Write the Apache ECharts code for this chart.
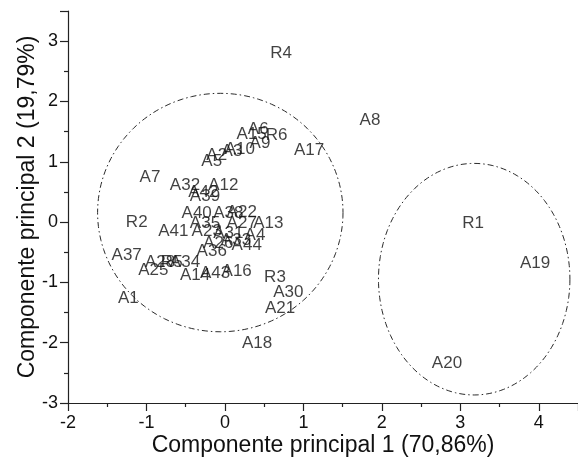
<!DOCTYPE html>
<html>
<head>
<meta charset="utf-8">
<script src="https://cdn.jsdelivr.net/npm/echarts@6/dist/echarts.min.js"></script>
<style>html,body{margin:0;padding:0;background:#fff;}#c{width:578px;height:460px;}</style>
</head>
<body>
<div id="c"></div>
<script>
// Sample labels and PCA scores
var labels = ['R4','A8','A17','R6','A6','A15','A9','A3','A10','A2','A5','A7','A32','A12','A42','A39','A40','A38','A22','R2','A13','A41','A35','A27','A23','A31','A33','A4','A44','A26','A36','A37','A28','R5','A34','A25','A14','A43','A16','R3','A30','A21','A1','A18','R1','A19','A20'];
var pc1 = [0.715,1.849,1.072,0.66,0.425,0.341,0.447,0.09,0.19,-0.105,-0.168,-0.955,-0.509,-0.021,-0.276,-0.254,-0.360,0.043,0.214,-1.124,0.553,-0.658,-0.254,0.214,-0.232,0.043,0.141,0.383,0.278,-0.084,-0.168,-1.252,-0.827,-0.678,-0.509,-0.913,-0.381,-0.126,0.150,0.638,0.808,0.702,-1.231,0.409,3.162,3.952,2.830];
var pc2 = [2.80,1.69,1.19,1.44,1.53,1.46,1.31,1.17,1.20,1.11,1.00,0.75,0.61,0.61,0.50,0.42,0.14,0.14,0.17,0.00,-0.02,-0.16,-0.02,-0.02,-0.16,-0.19,-0.30,-0.22,-0.38,-0.35,-0.49,-0.55,-0.66,-0.66,-0.66,-0.80,-0.88,-0.85,-0.82,-0.91,-1.16,-1.43,-1.27,-2.01,-0.02,-0.68,-2.34];
// Group ellipses: centre x, centre y, radius x, radius y (data units)
var ellCx = [-0.059, 3.177];
var ellCy = [0.158, -0.947];
var ellRx = [1.564, 1.22];
var ellRy = [1.977, 1.92];
var xTicks = [-2,-1,0,1,2,3,4];
var yTicks = [-3,-2,-1,0,1,2,3];

var pts = labels.map(function(n,i){ return [pc1[i], pc2[i], n]; });
var ells = ellCx.map(function(c,i){ return [c, ellCy[i], ellRx[i], ellRy[i]]; });

var chart = echarts.init(document.getElementById('c'), null, {renderer:'canvas'});
var txt = '#111';
var font = 'Liberation Sans, Arial, sans-serif';
chart.setOption({
  animation:false,
  backgroundColor:'#fff',
  grid:{left:68, right:0, top:11, bottom:57, containLabel:false, outerBoundsMode:'none'},
  xAxis:{
    type:'value', min:-2, max:4.5, interval:1,
    name:'Componente principal 1 (70,86%)', nameLocation:'middle', nameGap:31, nameMoveOverlap:false,
    nameTextStyle:{fontFamily:font, fontSize:23, color:txt},
    axisLine:{show:true, onZero:false, lineStyle:{color:'#222', width:1.2}},
    axisTick:{show:true, inside:false, length:8, lineStyle:{color:'#222', width:1.2}},
    minorTick:{show:true, splitNumber:2, length:4, lineStyle:{color:'#222', width:1.2}},
    axisLabel:{fontFamily:font, fontSize:18, color:txt, margin:11, showMaxLabel:false,
      formatter:function(v){ return xTicks.indexOf(v)>=0 ? String(v) : ''; }},
    splitLine:{show:false}
  },
  yAxis:{
    type:'value', min:-3, max:3.5, interval:1,
    name:'Componente principal 2 (19,79%)', nameLocation:'middle', nameGap:29, nameMoveOverlap:false,
    nameTextStyle:{fontFamily:font, fontSize:23, color:txt},
    axisLine:{show:true, onZero:false, lineStyle:{color:'#222', width:1.2}},
    axisTick:{show:true, inside:false, length:8, lineStyle:{color:'#222', width:1.2}},
    minorTick:{show:true, splitNumber:2, length:4, lineStyle:{color:'#222', width:1.2}},
    axisLabel:{fontFamily:font, fontSize:18, color:txt, margin:10, showMaxLabel:false,
      formatter:function(v){ return yTicks.indexOf(v)>=0 ? String(v) : ''; }},
    splitLine:{show:false}
  },
  series:[
    {
      type:'custom',
      data:ells,
      silent:true,
      clip:false,
      renderItem:function(params, api){
        var c = api.coord([api.value(0), api.value(1)]);
        var s = api.size([api.value(2), api.value(3)]);
        var p = [];
        for (var k=0;k<=160;k++){
          var t = k/160*Math.PI*2;
          p.push([c[0]+s[0]*Math.cos(t), c[1]+s[1]*Math.sin(t)]);
        }
        return {type:'polyline', shape:{points:p},
          style:{fill:null, stroke:'#2a2a2a', lineWidth:1, lineDash:[6,3,1.5,3]}};
      }
    },
    {
      type:'scatter',
      data:pts,
      symbolSize:0,
      silent:true,
      label:{show:true, position:'inside', fontFamily:font, fontSize:17, color:txt,
        formatter:function(p){ return p.value[2]; }}
    }
  ]
});
</script>
</body>
</html>
